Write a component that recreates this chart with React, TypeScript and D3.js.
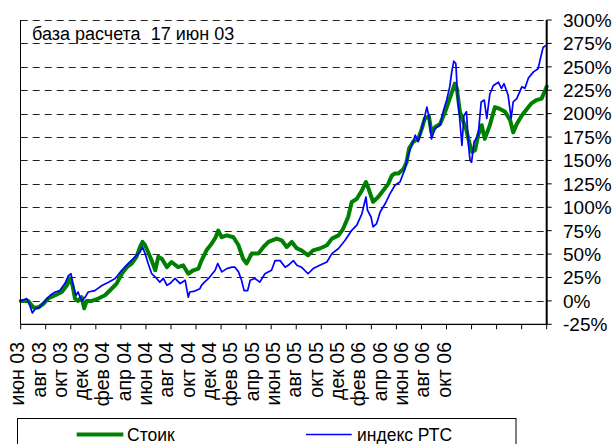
import React from 'react';
import * as d3 from 'd3';

// day index (trading days from 17 Jun 03), % change vs base
const stoikSeries: [number, number][] = [
  [0, 0], [15, 0], [25, -7], [35, -7], [45, -3], [54, 2.5], [68, 6], [81, 9.5], [91, 16.7], [97, 24],
  [102, 16.7], [107, 2.5], [113, 0], [120, 4], [125, -8], [130, 0], [140, 0], [153, 2.5], [166, 6],
  [179, 13], [189, 18.5], [199, 29], [209, 36], [219, 40], [228, 47], [235, 57.6], [240, 63], [245, 59.4],
  [251, 52], [258, 43], [265, 32.7], [271, 47], [278, 45], [288, 36], [297, 41.5], [310, 36], [320, 38],
  [330, 29], [340, 32.7], [350, 34.5], [356, 43], [366, 54], [376, 61], [384, 68], [389, 75], [396, 68],
  [406, 70], [419, 68], [429, 59.4], [438, 45], [445, 40], [455, 50.5], [468, 50.5], [478, 57.6],
  [488, 63], [504, 66.5], [514, 64.7], [524, 57.6], [534, 63], [544, 56], [553, 54], [566, 48.7],
  [576, 54], [589, 56], [603, 59.4], [613, 66.5], [626, 70], [635, 77], [645, 89.6], [652, 105.7],
  [662, 109], [672, 118], [680, 127], [685, 120], [694, 105.7], [704, 111], [714, 118], [724, 125],
  [731, 134], [737, 136], [744, 136], [754, 141], [760, 148], [765, 163], [773, 170], [783, 173],
  [790, 184], [796, 195], [804, 197], [809, 180], [817, 186], [826, 189], [836, 202], [845, 216],
  [855, 232], [859, 227], [865, 202], [872, 191], [877, 184], [885, 166], [889, 159], [895, 161],
  [901, 177], [908, 187.6], [914, 173], [924, 187.6], [934, 207], [944, 205], [954, 202], [964, 193],
  [970, 180], [977, 189], [987, 198], [997, 205], [1006, 211], [1016, 214.5], [1026, 216], [1033, 225],
  [1036, 229],
];

const rtsSeries: [number, number][] = [
  [0, 0], [12, 2.5], [18, -5], [23, -13], [28, -9], [38, -6.5], [48, 0], [58, 6], [68, 9.5], [77, 11],
  [87, 18.5], [94, 27], [99, 29], [104, 15], [109, 6], [113, 9.5], [120, 0], [127, 4], [133, 9.5],
  [146, 11], [160, 16.5], [173, 20], [186, 24], [199, 32.7], [212, 40], [225, 47], [235, 52], [240, 57.6],
  [245, 50.5], [251, 40], [258, 29], [265, 25.5], [274, 20], [281, 24], [288, 16.7], [294, 18.5],
  [304, 24], [314, 18.5], [324, 22], [330, 4], [333, 9.5], [343, 10.5], [353, 13], [356, 16.6],
  [362, 20], [370, 24], [383, 32.7], [388, 40], [396, 31], [406, 34.5], [416, 36], [422, 36], [429, 31],
  [435, 22], [440, 11], [447, 11], [452, 22], [461, 24], [471, 20], [481, 29], [494, 32.7], [501, 43],
  [511, 43], [521, 36], [527, 38], [537, 43], [544, 38], [553, 36], [566, 29], [576, 34.5], [589, 38],
  [603, 41.5], [613, 50.5], [626, 56], [639, 64.7], [652, 75.4], [662, 81], [672, 93], [680, 111],
  [683, 97], [690, 89.6], [694, 79], [701, 82.6], [708, 95], [718, 104], [727, 114], [737, 123.5],
  [747, 127], [757, 141], [763, 155.6], [770, 166], [777, 177], [783, 170], [790, 184], [795, 195],
  [800, 207], [804, 197], [809, 173], [816, 184], [826, 187.6], [832, 202], [839, 214.5], [845, 228.6],
  [849, 244.6], [853, 256], [857, 253.5], [861, 214], [863, 205], [869, 166], [873, 198], [878, 202],
  [882, 166], [885, 150], [888, 148], [893, 170], [901, 177], [907, 212.5], [913, 214.5], [918, 195],
  [924, 221], [931, 230], [941, 233.5], [947, 227], [952, 232], [960, 219.6], [966, 195], [970, 212.5],
  [977, 216], [987, 228.6], [993, 227], [1000, 238], [1010, 244.6], [1019, 248], [1025, 262],
  [1029, 271], [1036, 273],
];

const monthLabels = [
  'июн 03', 'авг 03', 'окт 03', 'дек 03', 'фев 04', 'апр 04', 'июн 04', 'авг 04', 'окт 04', 'дек 04',
  'фев 05', 'апр 05', 'июн 05', 'авг 05', 'окт 05', 'дек 05', 'фев 06', 'апр 06', 'июн 06', 'авг 06', 'окт 06',
];
const yTicks = [-25, 0, 25, 50, 75, 100, 125, 150, 175, 200, 225, 250, 275, 300];

const TOTAL_DAYS = 1036;
const LABEL_STEP = 42;
const TICK_INTERVALS = 21;

const W = 613;
const H = 444;
const left = 20.7;
const right = 546.7;
const top = 20;
const bottom = 324.3;
const font = '"Liberation Sans", Arial, sans-serif';

export default function App() {
  const x = d3.scaleLinear().domain([0, TOTAL_DAYS]).range([left, right]);
  const y = d3.scaleLinear().domain([-25, 300]).range([bottom, top]);

  const line = d3.line<[number, number]>()
    .x(d => x(d[0]))
    .y(d => y(d[1]));

  const tickDays = d3.range(TICK_INTERVALS + 1).map(i => i * TOTAL_DAYS / TICK_INTERVALS);

  return (
    <svg width={W} height={H} style={{ position: 'absolute', left: 0, top: 0, background: '#fff' }}
      fontFamily={font}>
      {/* gridlines */}
      {yTicks.filter(t => t > -25).map(t => (
        <line key={'g' + t} x1={left} x2={right} y1={Math.round(y(t)) + 0.5} y2={Math.round(y(t)) + 0.5}
          stroke="#222" strokeWidth={1} strokeDasharray="7,5" />
      ))}

      {/* series */}
      <path d={line(stoikSeries) || ''} fill="none" stroke="#008000" strokeWidth={4}
        strokeLinejoin="round" strokeLinecap="round" />
      <path d={line(rtsSeries) || ''} fill="none" stroke="#0000ff" strokeWidth={1.7}
        strokeLinejoin="round" />

      {/* axes */}
      <line x1={20.5} x2={20.5} y1={top} y2={bottom} stroke="#000" strokeWidth={1} />
      <line x1={left} x2={right} y1={bottom} y2={bottom} stroke="#000" strokeWidth={1.2} />
      <line x1={right} x2={right} y1={top} y2={bottom + 0.5} stroke="#000" strokeWidth={2} />
      {tickDays.map((d, i) => (
        <line key={'xt' + i} x1={x(d)} x2={x(d)} y1={bottom} y2={bottom + 5} stroke="#000" strokeWidth={1} />
      ))}
      {yTicks.map(t => (
        <g key={'yt' + t}>
          <line x1={right} x2={right + 5} y1={y(t)} y2={y(t)} stroke="#000" strokeWidth={1} />
          <text x={563} y={y(t)} dy="0.36em" fontSize={19} fill="#000">{t}%</text>
        </g>
      ))}
      {monthLabels.map((m, i) => (
        <text key={m} transform={`translate(${x(i * LABEL_STEP) + 3.5},342) rotate(-90)`}
          textAnchor="end" fontSize={19.5} fill="#000">{m}</text>
      ))}

      <text x={32} y={39.5} fontSize={18} fill="#000" style={{ whiteSpace: 'pre' }}>база расчета  17 июн 03</text>

      {/* legend */}
      <rect x={17.5} y={418.5} width={498.5} height={40} fill="#fff" stroke="#000" strokeWidth={1} />
      <line x1={76.7} x2={123.3} y1={434.5} y2={434.5} stroke="#008000" strokeWidth={4} />
      <text x={127} y={441} fontSize={17.5} fill="#000">Стоик</text>
      <line x1={306} x2={351.7} y1={434.5} y2={434.5} stroke="#0000ff" strokeWidth={1.5} />
      <text x={357} y={441} fontSize={17.5} fill="#000">индекс РТС</text>
    </svg>
  );
}
